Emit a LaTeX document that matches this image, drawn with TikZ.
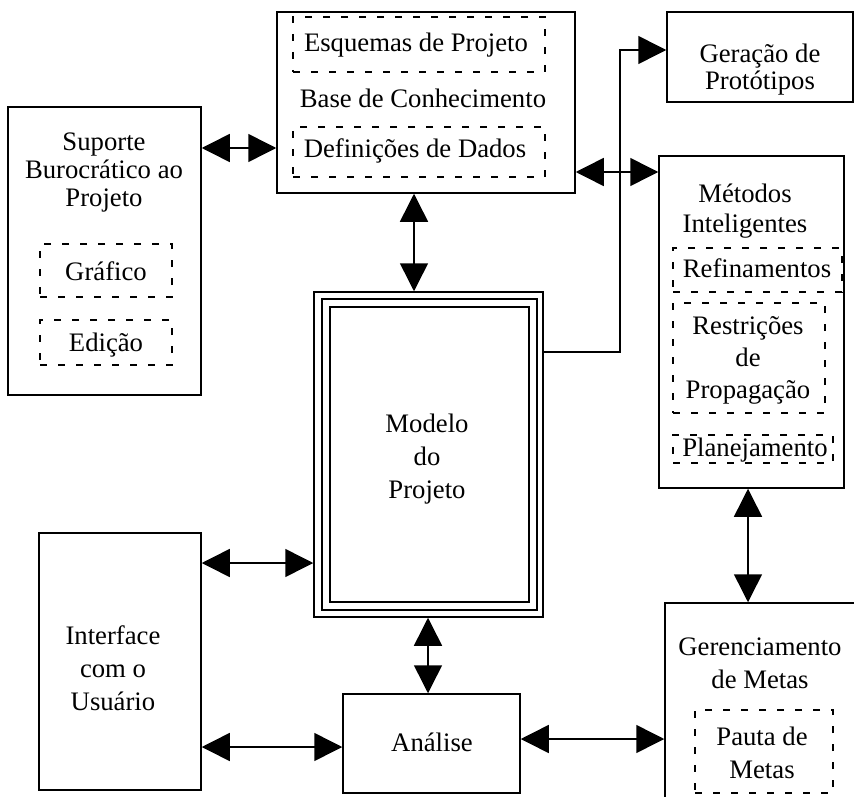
\documentclass[tikz,border=0pt]{standalone}
\usepackage{fontspec}
\setmainfont{Liberation Serif}
\usetikzlibrary{arrows.meta}
\tikzset{
  box/.style={draw, line width=1.5pt, rectangle, inner sep=0pt},
  dbox/.style={draw, line width=1.3pt, dash pattern=on 7pt off 11pt, rectangle, inner sep=0pt},
  lbl/.style={inner sep=0pt, align=center, font=\fontsize{26.7}{33}\selectfont},
  conn/.style={line width=1.5pt, {Triangle[length=28pt,width=28pt]}-{Triangle[length=28pt,width=28pt]}},
  conn1/.style={line width=1.5pt, -{Triangle[length=28pt,width=28pt]}}
}
\begin{document}
\begin{tikzpicture}[x=1pt,y=-1pt]
\path[use as bounding box] (0,0) rectangle (854,797);
\clip (0,0) rectangle (854,797);
\fill[white] (0,0) rectangle (854,797);
% boxes
\node[box, minimum width=298pt, minimum height=181pt] (base) at (426,102.5) {};
\node[box, minimum width=193pt, minimum height=288pt] (sup) at (104.5,251) {};
\node[box, minimum width=186pt, minimum height=90pt] (ger) at (760,57) {};
\node[box, minimum width=185pt, minimum height=332pt] (met) at (751.5,322) {};
\node[box, minimum width=229pt, minimum height=325pt] (modo) at (428.5,454.5) {};
\node[box, minimum width=215pt, minimum height=311pt] (modm) at (429.5,454.5) {};
\node[box, minimum width=199pt, minimum height=295pt] (modi) at (429.5,454.5) {};
\node[box, minimum width=162pt, minimum height=257pt] (int) at (120,661.5) {};
\node[box, minimum width=177pt, minimum height=99pt] (ana) at (431.5,743.5) {};
\node[box, minimum width=205pt, minimum height=217pt] (gm) at (767.5,711.5) {};
% dashed sub-boxes
\node[dbox, minimum width=252pt, minimum height=55pt] (esq) at (419,44.5) {};
\node[dbox, minimum width=252pt, minimum height=50pt] (def) at (419,152) {};
\node[dbox, minimum width=132pt, minimum height=53pt] (graf) at (106,270.5) {};
\node[dbox, minimum width=132pt, minimum height=45pt] (edi) at (106,342.5) {};
\node[dbox, minimum width=169pt, minimum height=44pt] (ref) at (757.5,270) {};
\node[dbox, minimum width=152pt, minimum height=110pt] (res) at (749,358) {};
\node[dbox, minimum width=160pt, minimum height=28pt] (pla) at (753,449) {};
\node[dbox, minimum width=138pt, minimum height=83pt] (pau) at (764,751.5) {};
% texts
\node[lbl] (tesq) at (416,45) {Esquemas de Projeto};
\node[lbl] (tbase) at (423,98) {Base de Conhecimento};
\node[lbl] (tdef) at (415,151) {Definições de Dados};
\node[lbl, font=\fontsize{26.7}{28}\selectfont] (tsup) at (104,173) {Suporte\\Burocrático ao\\Projeto};
\node[lbl] (tgraf) at (106,271) {Gráfico};
\node[lbl] (tedi) at (106,345) {Edição};
\node[lbl, font=\fontsize{26.7}{27}\selectfont] (tger) at (760,70) {Geração de\\Protótipos};
\node[lbl, font=\fontsize{26.7}{30}\selectfont] (tmet) at (745,211) {Métodos\\Inteligentes};
\node[lbl] (tref) at (757,268) {Refinamentos};
\node[lbl, font=\fontsize{26.7}{32}\selectfont] (tres) at (748,360) {Restrições\\de\\Propagação};
\node[lbl] (tpla) at (755,450) {Planejamento};
\node[lbl] (tmod) at (427,459) {Modelo\\do\\Projeto};
\node[lbl] (tint) at (113,668) {Interface\\com o\\Usuário};
\node[lbl] (tana) at (432,742) {Análise};
\node[lbl] (tgm) at (760,663) {Gerenciamento\\de Metas};
\node[lbl] (tpau) at (762,753) {Pauta de\\Metas};
% connectors
\draw[conn] (sup.east |- 0,148) -- (base.west |- 0,148);
\draw[conn] (base.east |- 0,172) -- (met.west |- 0,172);
\draw[conn] (base.south -| 414,0) -- (modo.north -| 414,0);
\draw[conn] (int.east |- 0,563) -- (modo.west |- 0,563);
\draw[conn] (int.east |- 0,747) -- (ana.west |- 0,747);
\draw[conn] (modo.south -| 428,0) -- (ana.north -| 428,0);
\draw[conn] (ana.east |- 0,739) -- (gm.west |- 0,739);
\draw[conn] (met.south -| 748,0) -- (gm.north -| 748,0);
\draw[conn1] (modo.east |- 0,352) -- (620,352) -- (620,50) -- (ger.west |- 0,50);
\end{tikzpicture}
\end{document}
